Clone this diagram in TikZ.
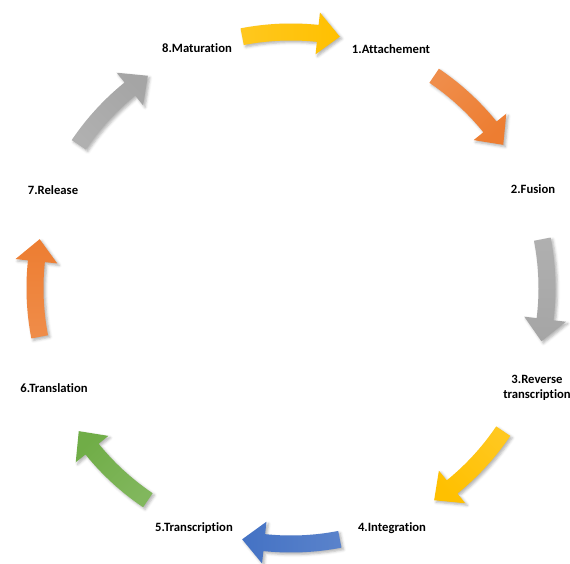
\documentclass[tikz,border=0pt]{standalone}
\usepackage{fontspec}
\setmainfont{Carlito}[Ligatures=NoCommon]
\usepackage{tikz}
\usetikzlibrary{shadows.blur}
\usepackage{xcolor}

\definecolor{cyellow}{HTML}{FFC000}
\definecolor{corange}{HTML}{ED7D31}
\definecolor{cgray}{HTML}{A5A5A5}
\definecolor{cblue}{HTML}{4472C4}
\definecolor{cgreen}{HTML}{70AD47}

% curved block arrow on the cycle: colour, start angle, end angle
\newcommand{\cyclearrow}[3]{%
  \pgfmathsetmacro\midang{(#2+#3)/2}%
  \pgfmathsetmacro\headang{#3+5}%
  \path[arrowbody, top color=#1!88!white, bottom color=#1, shading angle=\midang]
    (#2:264.5) arc[start angle=#2, end angle=\headang, radius=264.5]
    -- (\headang:277) -- (#3:256) -- (\headang:235)
    -- (\headang:247.5) arc[start angle=\headang, end angle=#2, radius=247.5] -- cycle;}

\begin{document}
\begin{tikzpicture}[x=0.75pt, y=0.75pt,
    steplabel/.style={font=\bfseries\fontsize{9.5}{11}\selectfont, align=center},
    arrowbody/.style={blur shadow={shadow xshift=1.5pt, shadow yshift=-1.5pt,
        shadow blur radius=2pt, shadow opacity=30}}]
      \useasboundingbox (-291,-275) rectangle (279,288);

      \node[steplabel] (attach) at (100,239) {1.Attachement};
      \node[steplabel] (fusion) at (242,99) {2.Fusion};
      \node[steplabel] (revtrans) at (246,-100) {3.Reverse\\transcription};
      \node[steplabel] (integ) at (101,-240) {4.Integration};
      \node[steplabel] (transcr) at (-97,-240) {5.Transcription};
      \node[steplabel] (transl) at (-237,-100) {6.Translation};
      \node[steplabel] (release) at (-238,98) {7.Release};
      \node[steplabel] (matur) at (-94,240) {8.Maturation};

      \cyclearrow{cyellow}{101}{79}
      \cyclearrow{corange}{56}{34}
      \cyclearrow{cgray}{11}{-12}
      \cyclearrow{cyellow}{-34}{-56}
      \cyclearrow{cblue}{-79}{-101}
      \cyclearrow{cgreen}{-124}{-146}
      \cyclearrow{corange}{-169}{-191}
      \cyclearrow{cgray}{146}{124}
    \end{tikzpicture}
\end{document}
